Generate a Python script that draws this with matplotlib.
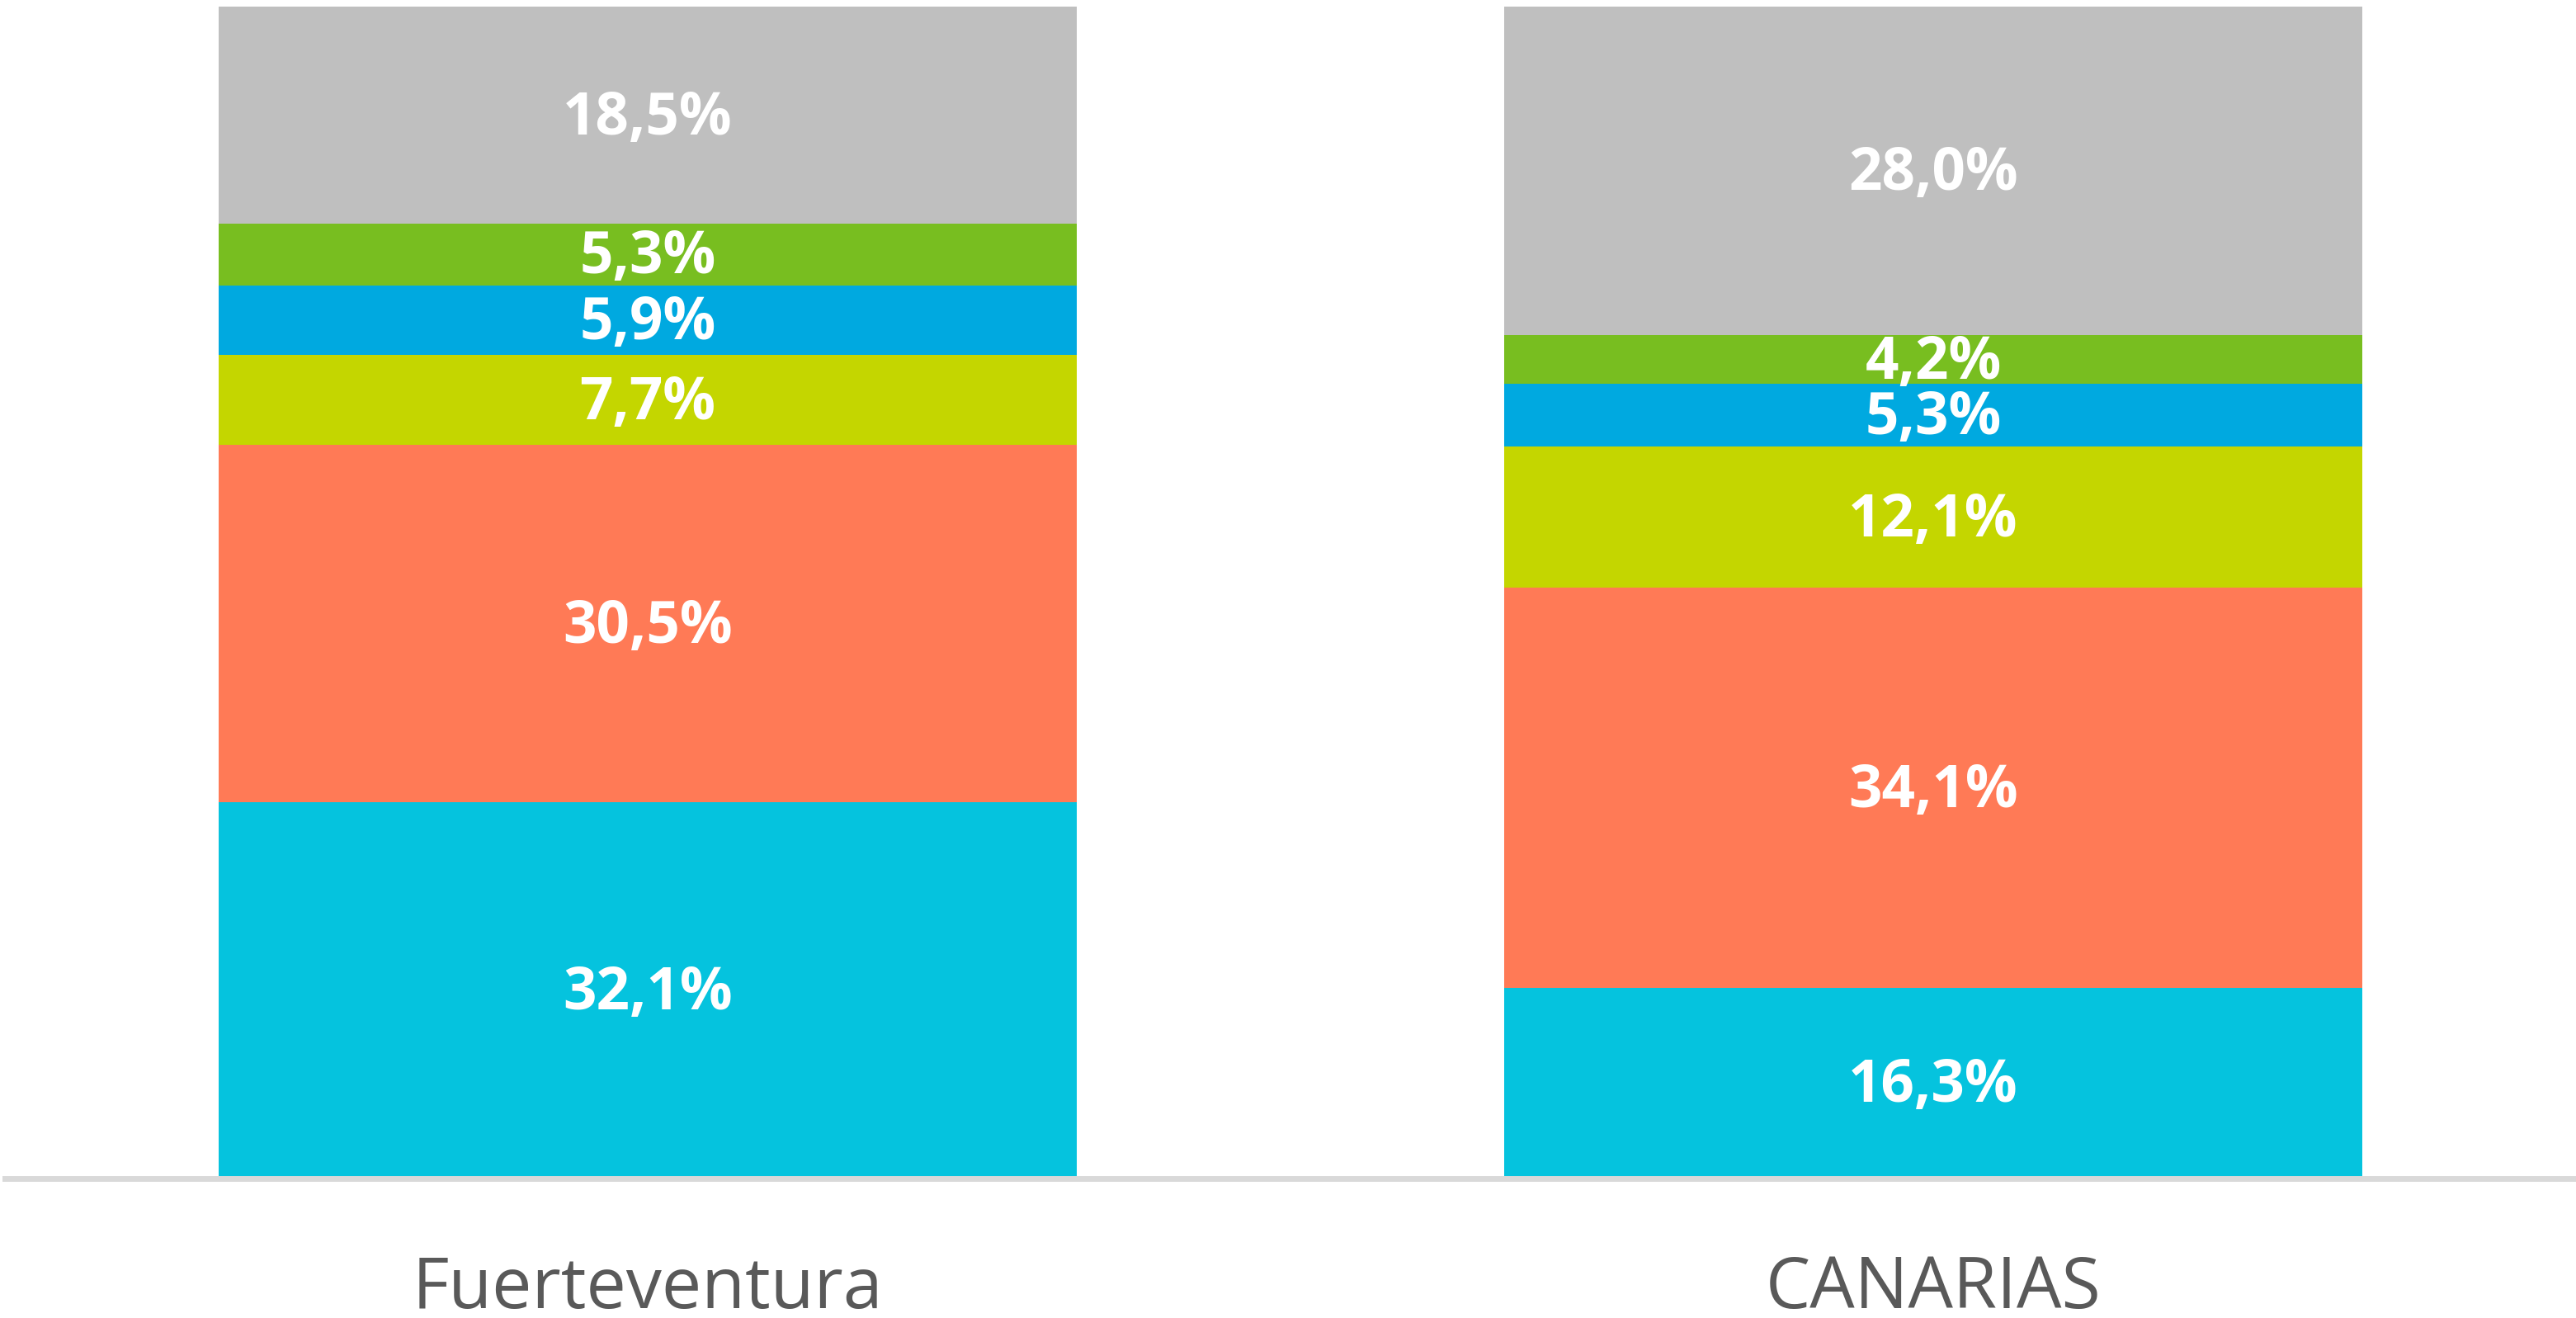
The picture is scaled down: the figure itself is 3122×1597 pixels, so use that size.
import matplotlib
matplotlib.use("Agg")
import matplotlib.pyplot as plt
import numpy as np

categories = ["Fuerteventura", "CANARIAS"]
# segments from bottom to top
series = {
    "s1": [32.1, 16.3],
    "s2": [30.5, 34.1],
    "s3": [7.7, 12.1],
    "s4": [5.9, 5.3],
    "s5": [5.3, 4.2],
    "s6": [18.5, 28.0],
}
colors = ["#05C3DE", "#FF7A56", "#C4D600", "#00A9E0", "#78BE20", "#BFBFBF"]

W, H = 3122, 1597
dpi = 100
fig = plt.figure(figsize=(W / dpi, H / dpi), dpi=dpi)
ax = fig.add_axes([6 / W, (H - 1428) / H, 1 - 6 / W, (1428 - 8) / H])

x = np.arange(len(categories))
bottom = np.zeros(len(categories))
for (name, vals), c in zip(series.items(), colors):
    vals = np.array(vals)
    ax.bar(x, vals, bottom=bottom, width=0.668, color=c, edgecolor="none")
    for xi, b, v in zip(x, bottom, vals):
        ax.annotate(f"{v:.1f}%".replace(".", ","), (xi, b + v / 2),
                    xytext=(0, -3), textcoords="offset points",
                    ha="center", va="center", color="white", fontsize=51,
                    fontweight="bold", family="Open Sans")
    bottom += vals

ax.set_xlim(-0.5, 1.5)
ax.set_ylim(0, 100)
for s in ["top", "right", "left"]:
    ax.spines[s].set_visible(False)
ax.spines["bottom"].set_color("#D9D9D9")
ax.spines["bottom"].set_linewidth(5)
ax.set_yticks([])
ax.set_xticks(x)
ax.set_xticklabels(categories, fontsize=62, color="#595959", family="Open Sans")
ax.tick_params(axis="x", length=0, pad=66)

fig.savefig("out.png", dpi=dpi)
